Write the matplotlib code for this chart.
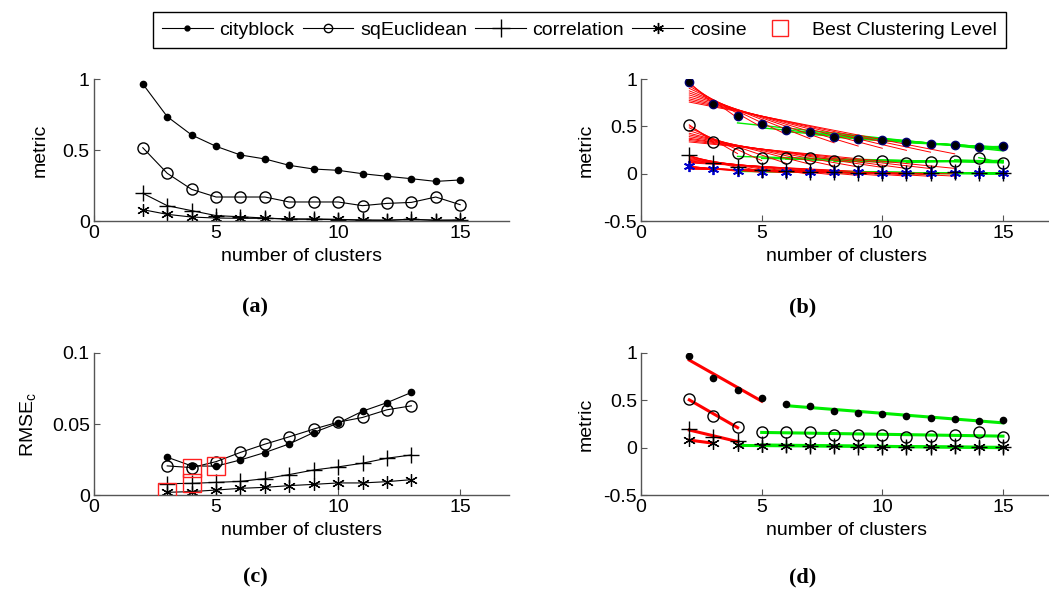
import numpy as np
import matplotlib

matplotlib.use("Agg")
import matplotlib.pyplot as plt
from matplotlib.lines import Line2D

plt.rcParams["font.family"] = ["Liberation Sans", "DejaVu Sans"]
plt.rcParams["mathtext.fontset"] = "custom"
plt.rcParams["mathtext.rm"] = "Liberation Sans"
plt.rcParams["mathtext.it"] = "Liberation Sans"

# --- data -------------------------------------------------------------------
k = np.arange(2, 16)  # number of clusters
cityblock = [0.965, 0.735, 0.606, 0.526, 0.465, 0.437, 0.392, 0.366, 0.357,
             0.333, 0.315, 0.298, 0.279, 0.289]
sqeuclid = [0.516, 0.336, 0.223, 0.169, 0.169, 0.169, 0.134, 0.134, 0.134,
            0.108, 0.124, 0.131, 0.169, 0.115]
correlation = [0.195, 0.108, 0.073, 0.038, 0.030, 0.021, 0.014, 0.012, 0.010,
               0.005, 0.003, 0.014, 0.003, 0.005]
cosine = [0.080, 0.047, 0.028, 0.021, 0.019, 0.019, 0.014, 0.014, 0.012,
          0.007, 0.007, 0.009, 0.007, 0.007]

c = np.arange(3, 14)  # candidate split points
rmse_city = [0.0266, 0.0205, 0.0203, 0.0247, 0.0299, 0.0360, 0.0440, 0.0506,
             0.0590, 0.0650, 0.0722]
rmse_sqe = [0.0205, 0.0193, 0.0235, 0.0300, 0.0358, 0.0410, 0.0464, 0.0513,
            0.0546, 0.0600, 0.0628]
rmse_corr = [0.0080, 0.0082, 0.0089, 0.0096, 0.0115, 0.0144, 0.0176, 0.0198,
             0.0224, 0.0259, 0.0282]
rmse_cos = [0.0019, 0.0024, 0.0035, 0.0047, 0.0054, 0.0066, 0.0075, 0.0085,
            0.0085, 0.0094, 0.0108]

names = ["cityblock", "sqEuclidean", "correlation", "cosine"]
metrics = [cityblock, sqeuclid, correlation, cosine]
rmses = [rmse_city, rmse_sqe, rmse_corr, rmse_cos]
best_c = [5, 4, 4, 3]  # best clustering level per metric

ASTER = (6, 2, 0)  # MATLAB-style asterisk
MK = {"cityblock": dict(marker="o", ms=4.5, mfc="k", mec="k"),
      "sqEuclidean": dict(marker="o", ms=8, mfc="none", mec="k"),
      "correlation": dict(marker="+", ms=11, mec="k", mew=1.0),
      "cosine": dict(marker=ASTER, ms=9, mec="k", mew=0.9)}

FS = 14


def style(ax, ylim, yticks):
    ax.set_xlim(0, 17)
    ax.set_ylim(*ylim)
    ax.set_xticks([0, 5, 10, 15])
    ax.set_yticks(yticks)
    ax.set_yticklabels([f"{t:g}" for t in yticks])
    for s in ("top", "right"):
        ax.spines[s].set_visible(False)
    for s in ("left", "bottom"):
        ax.spines[s].set_color("#555555")
        ax.spines[s].set_linewidth(1.0)
    ax.tick_params(direction="in", length=4, width=0.8, color="#555555",
                   labelsize=FS, pad=3)
    ax.set_xlabel("number of clusters", fontsize=FS, labelpad=4)


def seg_fit(x, y):
    p = np.polyfit(x, y, 1)
    return np.polyval(p, x)


fig = plt.figure(figsize=(10.49, 5.9), dpi=100)
axA = fig.add_axes([0.0896, 0.6254, 0.3956, 0.2407])
axB = fig.add_axes([0.6111, 0.6254, 0.3910, 0.2407])
axC = fig.add_axes([0.0896, 0.1610, 0.3956, 0.2407])
axD = fig.add_axes([0.6111, 0.1610, 0.3910, 0.2407])

# (a) metric vs number of clusters
for n, y in zip(names, metrics):
    axA.plot(k, y, color="k", lw=0.8, **MK[n])
style(axA, (0, 1), [0, 0.5, 1])
axA.set_ylabel("metric", fontsize=FS, labelpad=10)

# (b) all candidate two-segment fits
kx = np.array(k)
for y in metrics:
    y = np.array(y)
    for cc in c:
        left = kx <= cc
        right = kx > cc
        axB.plot(kx[left], seg_fit(kx[left], y[left]), color="#ff0000", lw=0.7, zorder=2)
        axB.plot(kx[right], seg_fit(kx[right], y[right]), color="#00ee00", lw=1.0, zorder=2)
bmk = dict(MK)
bmk["cityblock"] = dict(marker="o", ms=6, mfc="k", mec="#000070")
bmk["cosine"] = dict(marker=ASTER, ms=8, mec="#0000cc", mew=1.3)
zb = {"cityblock": 3, "sqEuclidean": 3, "correlation": 4, "cosine": 3}
for n, y in zip(names, metrics):
    axB.plot(k, y, ls="none", zorder=zb[n], **bmk[n])
style(axB, (-0.5, 1), [-0.5, 0, 0.5, 1])
axB.set_ylabel("metric", fontsize=FS, labelpad=6)

# (c) RMSE_c with best clustering level
for n, y in zip(names, rmses):
    axC.plot(c, y, color="k", lw=0.8, **MK[n])
for y, b in zip(rmses, best_c):
    i = list(c).index(b)
    axC.plot(c[i], y[i], ls="none", marker="s", ms=13, mfc="none",
             mec="#ff2020", mew=1.0, zorder=4)
style(axC, (0, 0.1), [0, 0.05, 0.1])
axC.set_ylabel("RMSE$_\\mathrm{c}$", fontsize=FS, labelpad=10)

# (d) chosen two-segment fit
for n, y, b in zip(names, metrics, best_c):
    y = np.array(y)
    left = kx <= b
    right = kx > b
    axD.plot(kx[left], seg_fit(kx[left], y[left]), color="#ff0000", lw=2.2, zorder=2)
    axD.plot(kx[right], seg_fit(kx[right], y[right]), color="#00ee00", lw=2.2, zorder=2)
    axD.plot(k, y, ls="none", zorder=3, **MK[n])
style(axD, (-0.5, 1), [-0.5, 0, 0.5, 1])
axD.set_ylabel("metric", fontsize=FS, labelpad=6)

# panel captions
cap = dict(fontsize=16, fontweight="bold", family=["Liberation Serif", "DejaVu Serif"],
           ha="center", va="center")
fig.text(255 / 1049, 1 - 307 / 590, "(a)", **cap)
fig.text(803 / 1049, 1 - 307 / 590, "(b)", **cap)
fig.text(255 / 1049, 1 - 577 / 590, "(c)", **cap)
fig.text(803 / 1049, 1 - 577 / 590, "(d)", **cap)

# shared legend
handles = [Line2D([], [], color="k", lw=0.8, marker="o", ms=3.5, mfc="k", mec="k"),
           Line2D([], [], color="k", lw=0.8, marker="o", ms=6, mfc="none", mec="k"),
           Line2D([], [], color="k", lw=0.8, marker="+", ms=13, mec="k"),
           Line2D([], [], color="k", lw=0.8, marker=ASTER, ms=8, mec="k"),
           Line2D([], [], ls="none", marker="s", ms=12, mfc="none", mec="#ff2020", mew=1.0)]
labels = names + ["Best Clustering Level"]
leg = fig.legend(handles, labels, loc="upper center", bbox_to_anchor=(0.5524, 0.979),
                 ncol=5, fontsize=FS, frameon=True, fancybox=False, framealpha=1,
                 edgecolor="k", handlelength=2.6, handletextpad=0.35,
                 columnspacing=0.42, borderpad=0.45, borderaxespad=0)
leg.get_frame().set_linewidth(1.0)

fig.savefig("out.png", dpi=100)
